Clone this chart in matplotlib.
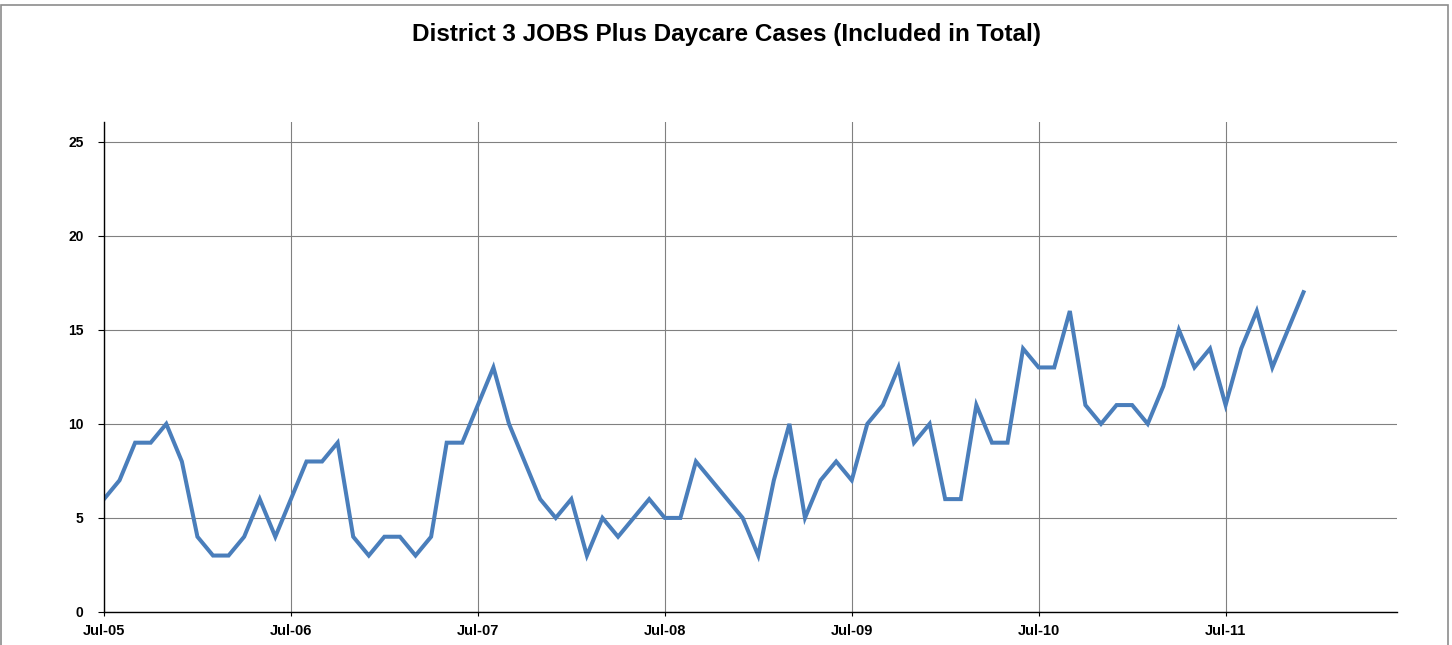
import matplotlib
matplotlib.use("Agg")
import matplotlib.pyplot as plt
from matplotlib.patches import Rectangle

# monthly cases, Jul-05 .. Dec-11
cases = [
    6, 7, 9, 9, 10, 8,
    4, 3, 3, 4, 6, 4, 6, 8, 8, 9, 4, 3,
    4, 4, 3, 4, 9, 9, 11, 13, 10, 8, 6, 5,
    6, 3, 5, 4, 5, 6, 5, 5, 8, 7, 6, 5,
    3, 7, 10, 5, 7, 8, 7, 10, 11, 13, 9, 10,
    6, 6, 11, 9, 9, 14, 13, 13, 16, 11, 10, 11,
    11, 10, 12, 15, 13, 14, 11, 14, 16, 13, 15, 17,
]
x_labels = ["Jul-05", "Jul-06", "Jul-07", "Jul-08", "Jul-09", "Jul-10", "Jul-11"]
y_ticks = [0, 5, 10, 15, 20, 25]

plt.rcParams["font.family"] = ["Liberation Sans", "DejaVu Sans"]

fig = plt.figure(figsize=(14.52, 6.45), dpi=100)
fig.patch.set_facecolor("white")
fig.add_artist(Rectangle((0.0008, -0.01), 0.9965, 1.002, transform=fig.transFigure,
                         fill=False, edgecolor="#8C8C8C", linewidth=1.2))

ax = fig.add_axes([0.0716, 0.0512, 0.8905, 0.7597])
months = list(range(len(cases)))
ax.plot(months, cases, color="#4A7EBB", linewidth=2.9, solid_joinstyle="miter")

ax.set_xlim(0, 83)
ax.set_ylim(0, 26.05)
ax.set_xticks([12 * i for i in range(len(x_labels))])
ax.set_xticklabels(x_labels, fontsize=10.5, fontweight="bold")
ax.set_yticks(y_ticks)
ax.set_yticklabels([str(v) for v in y_ticks], fontsize=10, fontweight="bold")
ax.tick_params(axis="y", direction="out", length=4.3, width=0.8, pad=10.5)
ax.tick_params(axis="x", direction="out", length=3, width=0.8, pad=6)

ax.grid(True, color="#808080", linewidth=0.8)
ax.set_axisbelow(True)
for side in ("top", "right"):
    ax.spines[side].set_visible(False)
for side in ("left", "bottom"):
    ax.spines[side].set_color("black")
    ax.spines[side].set_linewidth(1.0)

fig.text(0.5, 0.947, "District 3 JOBS Plus Daycare Cases (Included in Total)",
         ha="center", va="center", fontsize=17.5, fontweight="bold")

fig.savefig("out.png", dpi=100)
